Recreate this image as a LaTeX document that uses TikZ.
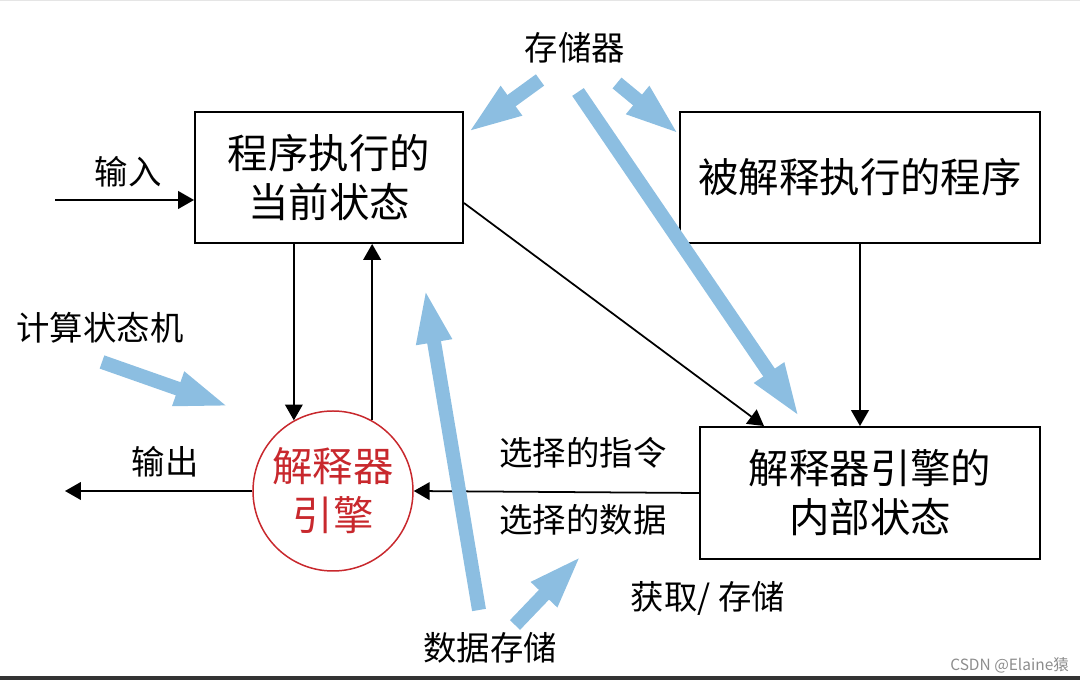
\documentclass[tikz,border=0pt]{standalone}
\usepackage{fontspec}
\setmainfont{Noto Sans CJK SC}
\usepackage{xcolor}
\definecolor{skyblue}{RGB}{140,190,225}
\definecolor{enginered}{RGB}{200,40,45}
\usetikzlibrary{arrows.meta}

\begin{document}
\begin{tikzpicture}[every node/.style={font=\fontsize{19}{23}\selectfont},
  box/.style={draw, line width=1.1pt, align=center, inner sep=0pt, font=\fontsize{23}{28}\selectfont},
  flow/.style={line width=1pt, -{Triangle[length=9pt,width=10pt]}},
  mem/.style={draw=skyblue, line width=0.28cm, -{Triangle[length=1.1cm,width=0.64cm]}}]

  \useasboundingbox (0,0) rectangle (21.6,13.6);
  \fill[black!10] (0,13.57) rectangle (21.6,13.6);
  \fill[black!80] (0,0) rectangle (21.6,0.08);

  % State boxes
  \node[box, minimum width=5.36cm, minimum height=2.62cm] (state) at (6.58,10.05) {程序执行的\\当前状态};
  \node[box, minimum width=7.2cm, minimum height=2.62cm] (prog) at (17.2,10.05) {被解释执行的程序};
  \node[box, minimum width=6.8cm, minimum height=2.64cm] (inner) at (17.4,3.74) {解释器引擎的\\内部状态};

  % Interpreter engine
  \node[circle, draw=enginered, line width=0.85pt, minimum size=3.2cm, inner sep=0pt, align=center,
        text=enginered, font=\fontsize{23}{28}\selectfont] (eng) at (6.66,3.78) {解释器\\引擎};

  % Input / output
  \coordinate (in) at (1.1,9.6);
  \coordinate (out) at (1.3,3.78);
  \draw[flow] (in) -- (in -| state.west);
  \node (inlbl) at (2.56,10.16) {输入};
  \draw[flow] (eng.west) -- (out);
  \node (outlbl) at (3.3,4.36) {输出};

  % Engine <-> current state
  \draw[flow] (state.south -| eng.119) -- (eng.119);
  \draw[flow] (eng.61) -- (eng.61 |- state.south);

  % Program and state feed the internal state
  \draw[flow] (state.east |- 0,9.54) -- (15.28,0 |- inner.north);
  \draw[flow] (prog.south) -- (prog.south |- inner.north);

  % Selection back to the engine
  \draw[flow] (inner.west) -- (eng.east);
  \node (instr) at (11.66,4.54) {选择的指令};
  \node (data) at (11.66,3.2) {选择的数据};

  % Labels
  \node (memory) at (11.5,12.64) {存储器};
  \node (machine) at (2.0,7.04) {计算状态机};
  \node (store) at (9.8,0.64) {数据存储};
  \node (fetch) at (14.16,1.64) {获取/ 存储};
  \node[anchor=east, text=black!45, font=\fontsize{8.8}{10}\selectfont] (mark) at (21.5,0.3) {CSDN @Elaine猿};

  % Memory arrows
  \coordinate (m1) at (10.8,12.0);
  \coordinate (m2) at (12.34,11.94);
  \coordinate (m3) at (11.56,11.76);
  \coordinate (c1) at (2.04,6.36);
  \coordinate (d1) at (9.58,1.4);
  \coordinate (d2) at (10.3,1.1);
  \draw[mem] (m1) -- (9.34,10.94);
  \draw[mem] (m2) -- (13.6,10.9);
  \draw[mem] (m3) -- (16.0,5.24);
  \draw[mem] (c1) -- (4.6,5.46);
  \draw[mem] (d1) -- (8.5,7.84);
  \draw[mem] (d2) -- (11.64,2.5);
\end{tikzpicture}
\end{document}
